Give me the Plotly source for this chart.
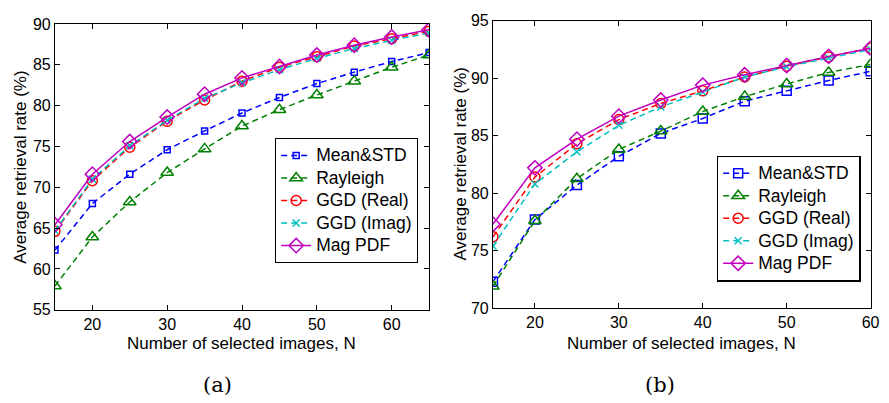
import plotly.graph_objects as go

# ---- data ----
names = ["Mean&STD", "Rayleigh", "GGD (Real)", "GGD (Imag)", "Mag PDF"]

n_a = [15, 20, 25, 30, 35, 40, 45, 50, 55, 60, 65]
a_mean = [62.3, 68.0, 71.6, 74.6, 76.9, 79.1, 81.0, 82.7, 84.1, 85.4, 86.5]
a_ray = [57.9, 63.9, 68.2, 71.8, 74.7, 77.5, 79.5, 81.3, 83.0, 84.7, 86.2]
a_ggdr = [64.6, 70.8, 74.9, 78.1, 80.7, 83.0, 84.7, 86.0, 87.3, 88.2, 89.1]
a_ggdi = [64.7, 71.0, 75.1, 78.2, 80.9, 82.8, 84.4, 85.8, 87.0, 88.0, 88.9]
a_mag = [65.4, 71.6, 75.6, 78.6, 81.4, 83.4, 84.8, 86.2, 87.4, 88.4, 89.3]

n_b = [15, 20, 25, 30, 35, 40, 45, 50, 55, 60]
b_mean = [72.3, 77.7, 80.7, 83.2, 85.2, 86.5, 88.0, 88.9, 89.8, 90.6]
b_ray = [71.9, 77.6, 81.25, 83.8, 85.4, 87.1, 88.4, 89.5, 90.5, 91.2]
b_ggdr = [76.2, 81.4, 84.3, 86.4, 87.8, 88.9, 90.1, 91.05, 91.85, 92.6]
b_ggdi = [75.4, 80.8, 83.6, 85.9, 87.5, 88.8, 90.1, 91.0, 91.75, 92.5]
b_mag = [77.3, 82.2, 84.7, 86.7, 88.1, 89.4, 90.3, 91.1, 91.9, 92.6]

a_ticks_x = [20, 30, 40, 50, 60]
a_ticks_y = [55, 60, 65, 70, 75, 80, 85, 90]
b_ticks_x = [20, 30, 40, 50, 60]
b_ticks_y = [70, 75, 80, 85, 90, 95]

# ---- styles ----
colors = ["#0000ff", "#008000", "#ff0000", "#00bfbf", "#bf00bf"]
symbols = ["square-open", "triangle-up-open", "circle-open", "x-thin-open", "diamond-open"]
dashes = ["6px,4px", "6px,4px", "6px,4px", "6px,4px", "solid"]
FONT = "Liberation Sans, Arial, sans-serif"

fig = go.Figure()

series_a = [a_mean, a_ray, a_ggdr, a_ggdi, a_mag]
series_b = [b_mean, b_ray, b_ggdr, b_ggdi, b_mag]
sizes_a = [6, 11, 10, 7, 11]
sizes_b = [9, 11, 10, 7, 11]

def lname(s):
    return "<span style='font-size:17.5px'>" + s + "</span>"

for i in range(5):
    fig.add_trace(go.Scatter(
        x=n_a, y=series_a[i], name=lname(names[i]), mode="lines+markers",
        line=dict(color=colors[i], width=1.5, dash=dashes[i]),
        marker=dict(symbol=symbols[i], size=sizes_a[i], color=colors[i],
                    line=dict(color=colors[i], width=1.5)),
        xaxis="x", yaxis="y", legend="legend"))
for i in range(5):
    fig.add_trace(go.Scatter(
        x=n_b, y=series_b[i], name=lname(names[i]), mode="lines+markers",
        line=dict(color=colors[i], width=1.5, dash=dashes[i]),
        marker=dict(symbol=symbols[i], size=sizes_b[i], color=colors[i],
                    line=dict(color=colors[i], width=1.5)),
        xaxis="x2", yaxis="y2", legend="legend2"))

W, H = 889, 403
def px_x(p):
    return p / W
def px_y(p):
    return (H - p) / H

axis_common = dict(showgrid=False, zeroline=False, showline=True, linecolor="black",
                   linewidth=1, mirror="ticks", ticks="inside", ticklen=5,
                   tickcolor="black", tickfont=dict(family=FONT, size=16, color="black"))

fig.update_layout(
    width=W, height=H, margin=dict(l=0, r=0, t=0, b=0),
    paper_bgcolor="white", plot_bgcolor="white",
    font=dict(family=FONT, color="black"),
    xaxis=dict(domain=[px_x(55.5), px_x(433.5)], range=[15, 65], tickvals=a_ticks_x,
               anchor="y", **axis_common),
    yaxis=dict(domain=[px_y(315), px_y(16.7)], range=[55, 90], tickvals=a_ticks_y,
               anchor="x", **axis_common),
    xaxis2=dict(domain=[px_x(498), px_x(879.5)], range=[15, 60], tickvals=b_ticks_x,
                anchor="y2", **axis_common),
    yaxis2=dict(domain=[px_y(313.3), px_y(13.3)], range=[70, 95], tickvals=b_ticks_y,
                anchor="x2", **axis_common),
    legend=dict(x=px_x(278), y=px_y(136), xanchor="left", yanchor="top",
                bgcolor="white", bordercolor="black", borderwidth=1,
                font=dict(family=FONT, size=15, color="black"), itemwidth=30),
    legend2=dict(x=px_x(724), y=px_y(154), xanchor="left", yanchor="top",
                 bgcolor="white", bordercolor="black", borderwidth=1.5,
                 font=dict(family=FONT, size=15, color="black"), itemwidth=30),
    showlegend=True,
)

ann = [
    dict(text="Number of selected images, N", x=px_x(244), y=px_y(350), xanchor="center",
         yanchor="middle", font=dict(size=17)),
    dict(text="Number of selected images, N", x=px_x(688), y=px_y(350), xanchor="center",
         yanchor="middle", font=dict(size=17)),
    dict(text="Average retrieval rate (%)", x=px_x(21), y=px_y(166), textangle=-90,
         xanchor="center", yanchor="middle", font=dict(size=17)),
    dict(text="Average retrieval rate (%)", x=px_x(465), y=px_y(163), textangle=-90,
         xanchor="center", yanchor="middle", font=dict(size=17)),
    dict(text="(a)", x=px_x(220), y=px_y(394), xanchor="center", yanchor="middle",
         font=dict(size=21, family="DejaVu Serif, Liberation Serif, serif")),
    dict(text="(b)", x=px_x(667), y=px_y(394), xanchor="center", yanchor="middle",
         font=dict(size=21, family="DejaVu Serif, Liberation Serif, serif")),
]
for a in ann:
    a.update(xref="paper", yref="paper", showarrow=False)
fig.update_layout(annotations=ann)

fig.write_html("out.html")
